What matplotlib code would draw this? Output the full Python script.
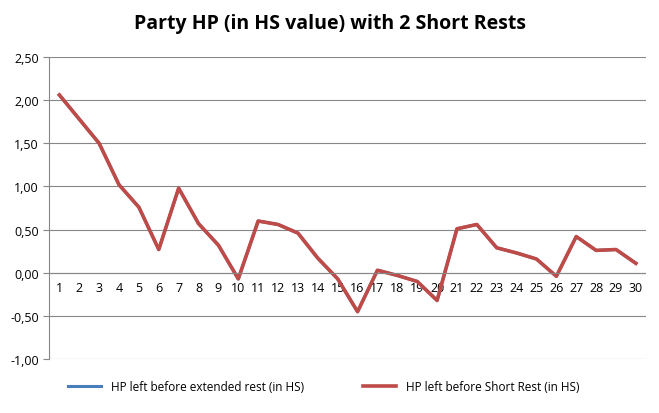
import numpy as np
import matplotlib.pyplot as plt
from matplotlib.transforms import ScaledTranslation

days = list(range(1, 31))
hp_short = [2.06, 1.78, 1.50, 1.02, 0.76, 0.27, 0.98, 0.57, 0.32, -0.07,
            0.60, 0.56, 0.46, 0.17, -0.07, -0.45, 0.03, -0.03, -0.10, -0.32,
            0.51, 0.56, 0.29, 0.23, 0.16, -0.04, 0.42, 0.26, 0.27, 0.11]
hp_ext = hp_short  # hidden beneath the red line in the original
yticks = [-1.0, -0.5, 0.0, 0.5, 1.0, 1.5, 2.0, 2.5]

plt.rcParams['font.family'] = ['Open Sans', 'DejaVu Sans']
fig = plt.figure(figsize=(6.59, 4.14), dpi=100)
ax = fig.add_axes([0.075, 0.13, 0.905, 0.73])

ax.plot(days, hp_ext, color='#4a7ebb', linewidth=2.2, label='HP left before extended rest (in HS)')
ax.plot(days, hp_short, color='#be4b48', linewidth=2.6, label='HP left before Short Rest (in HS)')

ax.set_ylim(-1.0, 2.5)
ax.set_xlim(0.5, 30.5)
ax.set_yticks(yticks)
ax.set_yticklabels([f'{v:.2f}'.replace('.', ',') for v in yticks], fontsize=9)
ax.grid(axis='y', color='#878787', linewidth=0.8)
ax.set_axisbelow(True)
for s in ['top', 'right', 'bottom']:
    ax.spines[s].set_visible(False)
ax.spines['left'].set_color('#878787')
ax.axhline(0, color='#878787', linewidth=0.8)
ax.set_xticks(days)
ax.set_xticklabels([str(d) for d in days], fontsize=9)
ax.tick_params(axis='x', length=0, pad=0)
ax.tick_params(axis='y', length=4, color='#878787')
# place x labels just below zero line
for lbl in ax.get_xticklabels():
    lbl.set_transform(ax.get_xaxis_transform() + ScaledTranslation(0, -0.08, fig.dpi_scale_trans))
    lbl.set_y((0 + 1.0) / 3.5)
    lbl.set_va('top')

fig.suptitle('Party HP (in HS value) with 2 Short Rests', fontsize=14, fontweight='bold', y=0.965)
ax.legend(loc='upper center', bbox_to_anchor=(0.46, -0.035), ncol=2, frameon=False, fontsize=8.5,
          handlelength=2.8, columnspacing=5)

fig.savefig('out.png', dpi=100)
